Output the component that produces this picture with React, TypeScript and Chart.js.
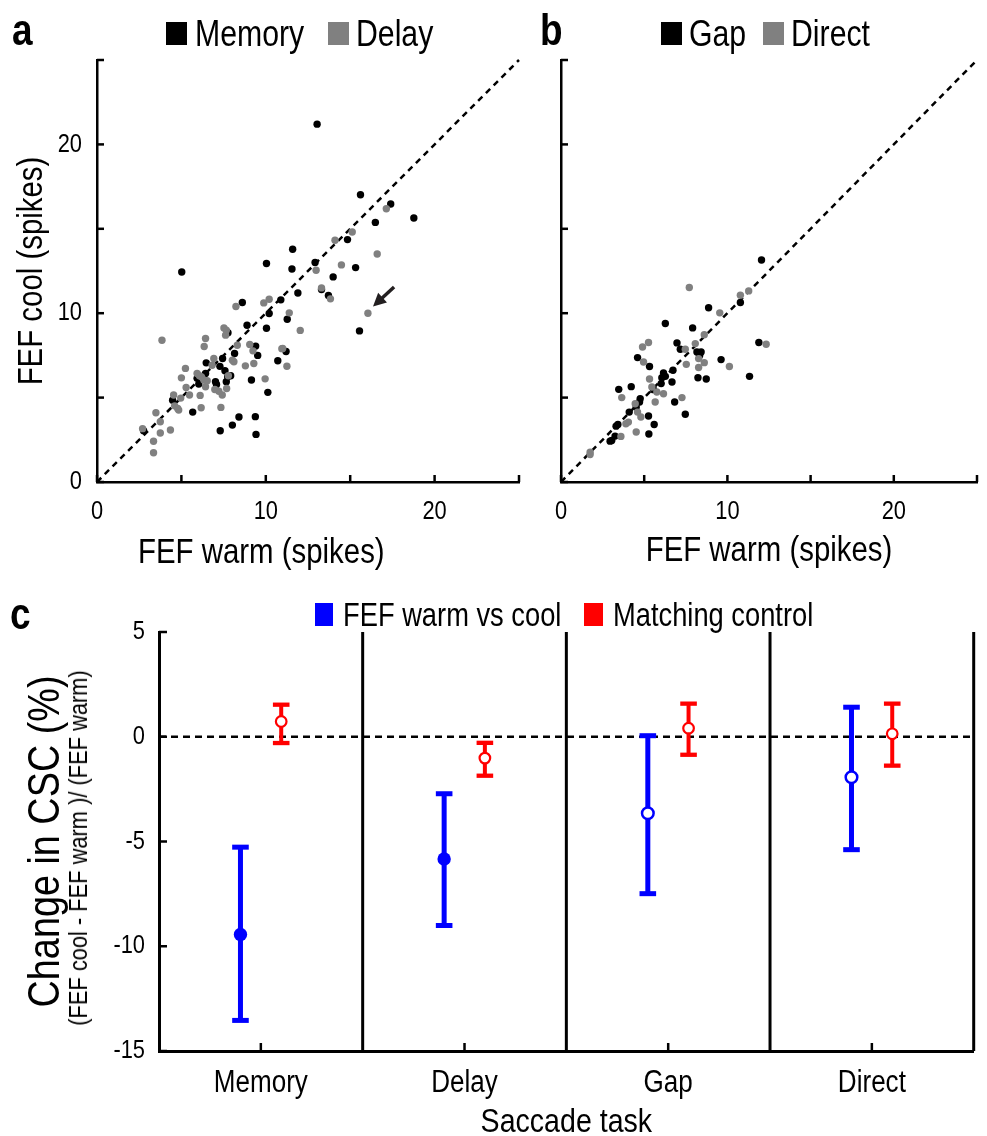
import React, { useEffect, useRef } from 'react';
import { Chart, registerables } from 'chart.js';
Chart.register(...registerables);

const FONT = '"Liberation Sans", Arial, sans-serif';
const CONDENSE = 0.84;
const BLACK = '#000000';
const GRAY = '#808080';
const BLUE = '#0000ff';
const RED = '#ff0000';

// ---------- Panel a: Memory / Delay (FEF warm vs FEF cool spikes) ----------
const memoryX = [13.04, 5.02, 11.59, 10.04, 11.55, 12.92, 11.9, 13.3, 15.61, 17.4, 18.77, 16.49, 14.84, 15.32, 13.99, 13.71, 10.89, 8.61, 10.2, 11.27, 15.55, 10.04, 8.89, 7.76, 8.15, 9.4, 9.52, 11.2, 10.71, 9.15, 10.12, 6.47, 7.44, 7.28, 7.58, 7.92, 6.43, 5.93, 6.03, 7.02, 7.08, 7.66, 7.74, 4.48, 5.67, 8.41, 9.38, 8.02, 7.3, 9.42, 2.76];
const memoryY = [21.2, 12.44, 13.79, 12.94, 12.62, 13.0, 11.2, 11.4, 17.02, 16.47, 15.64, 15.38, 14.36, 12.7, 12.15, 11.05, 10.79, 10.63, 9.98, 9.64, 8.95, 9.11, 9.29, 8.84, 7.61, 8.05, 7.5, 7.73, 7.18, 6.04, 5.31, 7.06, 7.32, 6.85, 6.59, 6.29, 6.43, 6.14, 5.8, 5.94, 5.78, 5.94, 6.23, 4.85, 4.14, 3.85, 3.87, 3.37, 3.04, 2.82, 3.04];
const delayX = [12.98, 13.3, 17.14, 15.12, 14.1, 16.6, 14.48, 13.83, 9.88, 10.2, 11.39, 16.05, 12.04, 9.05, 11.0, 8.23, 3.85, 6.43, 6.35, 7.52, 7.66, 7.62, 8.31, 9.24, 10.95, 11.25, 9.29, 8.79, 9.96, 6.92, 6.82, 7.78, 8.02, 8.11, 5.93, 6.07, 6.19, 6.33, 6.53, 6.43, 6.98, 7.22, 7.42, 7.68, 5.24, 5.0, 5.28, 5.48, 6.11, 4.54, 4.96, 4.6, 4.78, 4.84, 6.17, 7.34, 3.49, 3.75, 2.7, 4.35, 3.75, 3.35, 3.35];
const delayY = [12.54, 11.5, 16.19, 14.81, 14.32, 13.51, 12.86, 10.85, 10.61, 10.83, 10.02, 10.0, 8.98, 8.15, 7.91, 10.4, 8.4, 8.5, 8.03, 9.13, 8.99, 8.7, 8.1, 7.77, 7.9, 6.86, 7.02, 6.88, 6.11, 7.32, 6.92, 6.29, 7.22, 7.12, 6.43, 6.29, 6.23, 6.04, 6.0, 5.64, 5.48, 5.38, 5.15, 5.54, 6.73, 6.17, 5.6, 5.15, 5.13, 5.15, 4.97, 4.51, 4.36, 4.26, 4.4, 4.42, 4.1, 3.57, 3.16, 3.08, 2.9, 2.41, 1.73];
const arrowFrom = [17.6, 11.55];
const arrowTo = [16.35, 10.4];

// ---------- Panel b: Gap / Direct ----------
const gapX = [12.05, 10.78, 8.87, 6.27, 7.91, 11.89, 6.97, 7.17, 8.17, 8.42, 8.33, 9.62, 11.33, 8.23, 8.73, 4.6, 5.32, 6.73, 6.16, 6.06, 6.02, 6.27, 6.67, 5.56, 6.83, 7.47, 4.22, 3.47, 4.76, 4.72, 4.52, 4.1, 5.26, 5.6, 5.28, 3.42, 3.31, 3.25, 3.05, 2.95];
const gapY = [13.15, 10.63, 10.32, 9.39, 9.13, 8.26, 8.24, 7.86, 7.7, 7.7, 7.5, 7.25, 6.26, 6.18, 6.1, 7.37, 6.84, 6.62, 6.46, 6.18, 5.83, 6.26, 5.92, 5.47, 4.74, 4.01, 5.65, 5.49, 4.94, 4.74, 4.44, 4.14, 3.91, 3.41, 2.84, 3.41, 3.31, 2.72, 2.46, 2.42];
const directX = [7.71, 10.78, 11.28, 9.54, 8.61, 12.33, 4.9, 5.26, 7.47, 8.07, 8.27, 8.61, 8.27, 10.12, 7.53, 4.96, 5.32, 5.46, 5.76, 6.16, 5.66, 7.27, 3.65, 4.46, 4.6, 4.8, 4.52, 4.05, 3.9, 3.6, 1.75, 1.75];
const directY = [11.52, 11.07, 11.32, 10.02, 8.73, 8.16, 8.0, 8.26, 7.86, 8.2, 7.31, 7.07, 6.78, 6.84, 6.97, 7.11, 6.1, 5.63, 5.33, 5.23, 4.74, 5.0, 5.0, 4.64, 4.14, 3.85, 2.96, 3.55, 3.45, 2.7, 1.77, 1.63];

const spikeRange = [0, 25];
const spikeTickMarks = [0, 5, 10, 15, 20, 25];
const spikeTickLabels = [0, 10, 20];

// ---------- Panel c: change in CSC ----------
const tasks = ['Memory', 'Delay', 'Gap', 'Direct'];
const coolMean = [-9.44, -5.83, -3.65, -1.93];
const coolLow = [-13.54, -9.01, -7.49, -5.39];
const coolHigh = [-5.27, -2.72, 0.05, 1.41];
const coolFilled = [true, true, false, false];
const controlMean = [0.73, -1.02, 0.41, 0.14];
const controlLow = [-0.3, -1.86, -0.86, -1.38];
const controlHigh = [1.53, -0.29, 1.58, 1.58];
const cscTicks = [-15, -10, -5, 0, 5];
const taskRange = [0.5, 4.5];
const taskDividers = [1.5, 2.5, 3.5, 4.5];
const PAIR_OFFSET = 0.1;

// Draw chart text horizontally condensed (the reference uses a narrow typeface)
const condensedText = {
  id: 'condensedText',
  beforeDraw(chart: any) {
    const ctx = chart.ctx;
    const proto = Object.getPrototypeOf(ctx);
    const orig = proto.fillText;
    ctx.fillText = function (text: string, x: number, y: number) {
      ctx.save();
      ctx.translate(x, y);
      ctx.scale(CONDENSE, 1);
      orig.call(ctx, text, 0, 0);
      ctx.restore();
    };
  },
  afterDraw(chart: any) {
    delete chart.ctx.fillText;
  },
};

const inwardTicks = {
  id: 'inwardTicks',
  afterDraw(chart: any, _args: any, opts: any) {
    const { ctx } = chart;
    const xs = chart.scales.x;
    const ys = chart.scales.y;
    ctx.save();
    ctx.strokeStyle = BLACK;
    ctx.lineWidth = opts.width || 2.5;
    ctx.lineCap = 'butt';
    (opts.x || []).forEach((v: number) => {
      const px = xs.getPixelForValue(v);
      ctx.beginPath();
      ctx.moveTo(px, xs.top);
      ctx.lineTo(px, xs.top - opts.len);
      ctx.stroke();
    });
    (opts.y || []).forEach((v: number) => {
      const py = ys.getPixelForValue(v);
      ctx.beginPath();
      ctx.moveTo(ys.right, py);
      ctx.lineTo(ys.right + opts.len, py);
      ctx.stroke();
    });
    ctx.restore();
  },
};

const arrowNote = {
  id: 'arrowNote',
  afterDatasetsDraw(chart: any, _args: any, opts: any) {
    if (!opts || !opts.from) return;
    const { ctx } = chart;
    const xs = chart.scales.x;
    const ys = chart.scales.y;
    const x1 = xs.getPixelForValue(opts.from[0]);
    const y1 = ys.getPixelForValue(opts.from[1]);
    const x2 = xs.getPixelForValue(opts.to[0]);
    const y2 = ys.getPixelForValue(opts.to[1]);
    const ang = Math.atan2(y2 - y1, x2 - x1);
    const head = 13;
    const hw = 6.5;
    const bx = x2 - head * Math.cos(ang);
    const by = y2 - head * Math.sin(ang);
    ctx.save();
    ctx.strokeStyle = opts.color;
    ctx.fillStyle = opts.color;
    ctx.lineWidth = 3.5;
    ctx.beginPath();
    ctx.moveTo(x1, y1);
    ctx.lineTo(bx + 2 * Math.cos(ang), by + 2 * Math.sin(ang));
    ctx.stroke();
    ctx.beginPath();
    ctx.moveTo(x2, y2);
    ctx.lineTo(bx + hw * Math.sin(ang), by - hw * Math.cos(ang));
    ctx.lineTo(bx - hw * Math.sin(ang), by + hw * Math.cos(ang));
    ctx.closePath();
    ctx.fill();
    ctx.restore();
  },
};

const pts = (xs: number[], ys: number[]) => xs.map((x, i) => ({ x, y: ys[i] }));

function scatterConfig(opts: {
  blackX: number[]; blackY: number[]; grayX: number[]; grayY: number[];
  yLabels: boolean; yTitle: string | null; xTitle: boolean; yWidth: number; padRight: number; height: number;
  arrow?: any;
}) {
  const plugins: any[] = [condensedText, inwardTicks];
  if (opts.arrow) plugins.push(arrowNote);
  return {
    type: 'scatter',
    plugins,
    data: {
      datasets: [
        { label: 'gray', data: pts(opts.grayX, opts.grayY), backgroundColor: GRAY, borderWidth: 0, pointRadius: 3.7, order: 0 },
        { label: 'black', data: pts(opts.blackX, opts.blackY), backgroundColor: BLACK, borderWidth: 0, pointRadius: 3.7, order: 1 },
        {
          type: 'line', label: 'unity', data: spikeRange.map((v) => ({ x: v, y: v })),
          borderColor: BLACK, borderWidth: 2.5, borderDash: [6, 5], pointRadius: 0, order: 2, clip: false,
        },
      ],
    },
    options: {
      responsive: false,
      animation: false,
      events: [],
      layout: { padding: { left: 0, top: 60, right: opts.padRight, bottom: 0 } },
      plugins: {
        legend: { display: false },
        tooltip: { enabled: false },
        inwardTicks: { x: spikeTickMarks, y: spikeTickMarks, len: 7, width: 2.5 },
        arrowNote: opts.arrow || {},
      },
      scales: {
        x: {
          type: 'linear', min: spikeRange[0], max: spikeRange[1],
          afterFit: (s: any) => { s.height = opts.height - 482; },
          afterBuildTicks: (s: any) => { s.ticks = spikeTickLabels.map((v) => ({ value: v })); },
          grid: { display: false, drawTicks: false },
          border: { display: true, color: BLACK, width: 2.5 },
          ticks: { color: BLACK, font: { family: FONT, size: 26 }, padding: 14, maxRotation: 0, autoSkip: false },
          title: {
            display: opts.xTitle, text: 'FEF warm (spikes)', color: BLACK,
            font: { family: FONT, size: 35 }, padding: { top: 0, bottom: 18 },
          },
        },
        y: {
          type: 'linear', min: spikeRange[0], max: spikeRange[1],
          afterFit: (s: any) => { s.width = opts.yWidth; },
          afterBuildTicks: (s: any) => { s.ticks = spikeTickLabels.map((v) => ({ value: v })); },
          grid: { display: false, drawTicks: false },
          border: { display: true, color: BLACK, width: 2.5 },
          ticks: { display: opts.yLabels, color: BLACK, font: { family: FONT, size: 26 }, padding: 15 },
          title: opts.yTitle
            ? { display: true, text: opts.yTitle, color: BLACK, font: { family: FONT, size: 35 }, padding: { top: 11, bottom: 0 } }
            : { display: false },
        },
      },
    },
  };
}

function cscConfig() {
  const coolPts = tasks.map((_, i) => ({ x: i + 1 - PAIR_OFFSET, y: coolMean[i] }));
  const controlPts = tasks.map((_, i) => ({ x: i + 1 + PAIR_OFFSET, y: controlMean[i] }));
  const coolBars = tasks.map((_, i) => ({
    type: 'line', label: 'coolErr' + i,
    data: [{ x: i + 1 - PAIR_OFFSET, y: coolLow[i] }, { x: i + 1 - PAIR_OFFSET, y: coolHigh[i] }],
    borderColor: BLUE, borderWidth: 5, pointStyle: 'line', pointRadius: 8.3,
    pointBorderColor: BLUE, pointBorderWidth: 5, order: 1, clip: false,
  }));
  const controlBars = tasks.map((_, i) => ({
    type: 'line', label: 'ctrlErr' + i,
    data: [{ x: i + 1 + PAIR_OFFSET, y: controlLow[i] }, { x: i + 1 + PAIR_OFFSET, y: controlHigh[i] }],
    borderColor: RED, borderWidth: 4, pointStyle: 'line', pointRadius: 8.3,
    pointBorderColor: RED, pointBorderWidth: 4.3, order: 1, clip: false,
  }));
  const dividers = taskDividers.map((d, i) => ({
    type: 'line', label: 'div' + i,
    data: [{ x: d, y: cscTicks[0] }, { x: d, y: cscTicks[cscTicks.length - 1] }],
    borderColor: BLACK, borderWidth: 3, pointRadius: 0, order: 3, clip: false,
  }));
  return {
    type: 'scatter',
    plugins: [condensedText, inwardTicks],
    data: {
      datasets: [
        {
          label: 'FEF warm vs cool', data: coolPts,
          pointRadius: coolFilled.map((f) => (f ? 6.7 : 5.8)),
          pointBackgroundColor: coolFilled.map((f) => (f ? BLUE : '#ffffff')),
          pointBorderColor: BLUE,
          pointBorderWidth: coolFilled.map((f) => (f ? 0 : 2.5)),
          order: 0, clip: false,
        },
        {
          label: 'Matching control', data: controlPts,
          pointRadius: 5.3, pointBackgroundColor: '#ffffff', pointBorderColor: RED, pointBorderWidth: 2.2,
          order: 0, clip: false,
        },
        ...coolBars,
        ...controlBars,
        {
          type: 'line', label: 'zero', data: taskRange.map((x) => ({ x, y: 0 })),
          borderColor: BLACK, borderWidth: 2.5, borderDash: [7, 5], pointRadius: 0, order: 2,
        },
        ...dividers,
      ],
    },
    options: {
      responsive: false,
      animation: false,
      events: [],
      layout: { padding: { left: 0, top: 32, right: 1, bottom: 0 } },
      plugins: {
        legend: { display: false },
        tooltip: { enabled: false },
        inwardTicks: { x: tasks.map((_, i) => i + 1), y: cscTicks, len: 8, width: 2.5 },
      },
      scales: {
        x: {
          type: 'linear', min: taskRange[0], max: taskRange[1],
          afterFit: (s: any) => { s.height = 536 - 451; },
          afterBuildTicks: (s: any) => { s.ticks = tasks.map((_, i) => ({ value: i + 1 })); },
          grid: { display: false, drawTicks: false },
          border: { display: true, color: BLACK, width: 3 },
          ticks: {
            color: BLACK, font: { family: FONT, size: 31 }, padding: 14, maxRotation: 0, autoSkip: false,
            callback: (v: number) => tasks[Math.round(v) - 1],
          },
          title: { display: true, text: 'Saccade task', color: BLACK, font: { family: FONT, size: 34, lineHeight: 0.8 }, padding: { top: 0, bottom: 0 } },
        },
        y: {
          type: 'linear', min: cscTicks[0], max: cscTicks[cscTicks.length - 1],
          afterFit: (s: any) => { s.width = 159; },
          afterBuildTicks: (s: any) => { s.ticks = cscTicks.map((v) => ({ value: v })); },
          grid: { display: false, drawTicks: false },
          border: { display: true, color: BLACK, width: 3 },
          ticks: { color: BLACK, font: { family: FONT, size: 26 }, padding: 14 },
          title: { display: true, text: 'Change in CSC (%)', color: BLACK, font: { family: FONT, size: 45 }, padding: { top: 20, bottom: 0 } },
        },
      },
    },
  };
}

const abs = (s: React.CSSProperties): React.CSSProperties => ({ position: 'absolute', ...s });

function Square({ left, top, w, h, color }: { left: number; top: number; w: number; h: number; color: string }) {
  return <div style={abs({ left, top, width: w, height: h, background: color })} />;
}

function Label({ left, cy, size, children, bold }: { left: number; cy: number; size: number; children: React.ReactNode; bold?: boolean }) {
  return (
    <div
      style={abs({
        left, top: cy - size * 0.6, fontSize: size, lineHeight: `${size * 1.2}px`, whiteSpace: 'nowrap',
        fontWeight: bold ? 700 : 400, color: BLACK, transform: `scaleX(${CONDENSE})`, transformOrigin: '0 50%',
      })}
    >
      {children}
    </div>
  );
}

export default function App() {
  const refA = useRef<HTMLCanvasElement>(null);
  const refB = useRef<HTMLCanvasElement>(null);
  const refC = useRef<HTMLCanvasElement>(null);

  useEffect(() => {
    const charts: Chart[] = [];
    if (refA.current) {
      charts.push(new Chart(refA.current, scatterConfig({
        blackX: memoryX, blackY: memoryY, grayX: delayX, grayY: delayY,
        yLabels: true, yTitle: 'FEF cool (spikes)', xTitle: false, yWidth: 97, padRight: 540 - 519, height: 590,
        arrow: { from: arrowFrom, to: arrowTo, color: '#231f20' },
      }) as any));
    }
    if (refB.current) {
      charts.push(new Chart(refB.current, scatterConfig({
        blackX: gapX, blackY: gapY, grayX: directX, grayY: directY,
        yLabels: false, yTitle: null, xTitle: true, yWidth: 91, padRight: 517 - 507, height: 590,
      }) as any));
    }
    if (refC.current) {
      charts.push(new Chart(refC.current, cscConfig() as any));
    }
    return () => charts.forEach((c) => c.destroy());
  }, []);

  return (
    <div style={abs({ left: 0, top: 0, width: 987, height: 1136, background: '#fff', overflow: 'hidden', fontFamily: FONT })}>
      <canvas ref={refA} width={540} height={590} style={abs({ left: 0, top: 0 })} />
      <canvas ref={refB} width={517} height={590} style={abs({ left: 470, top: 0 })} />
      <canvas ref={refC} width={987} height={536} style={abs({ left: 0, top: 600 })} />

      <Label left={12} cy={30} size={44} bold>a</Label>
      <Label left={540} cy={30} size={44} bold>b</Label>
      <Label left={10} cy={614} size={44} bold>c</Label>

      <Square left={166} top={22} w={21} h={23} color={BLACK} />
      <Label left={195} cy={34} size={36}>Memory</Label>
      <Square left={328} top={22} w={21} h={23} color={GRAY} />
      <Label left={356} cy={34} size={36}>Delay</Label>

      <Square left={661} top={22} w={21} h={23} color={BLACK} />
      <Label left={689} cy={34} size={36}>Gap</Label>
      <Square left={763} top={22} w={21} h={23} color={GRAY} />
      <Label left={791} cy={34} size={36}>Direct</Label>

      <Label left={138} cy={551} size={35}>FEF warm (spikes)</Label>

      <Square left={315} top={603} w={18} h={23} color={BLUE} />
      <Label left={343} cy={615} size={32.5}>FEF warm vs cool</Label>
      <Square left={584} top={603} w={19} h={23} color={RED} />
      <Label left={613} cy={615} size={32.5}>Matching control</Label>

      <div
        style={abs({
          left: 78 - 220, top: 848 - 15, width: 440, height: 30, lineHeight: '30px', fontSize: 26,
          textAlign: 'center', whiteSpace: 'nowrap', transform: `rotate(-90deg) scaleX(${CONDENSE})`,
          transformOrigin: '50% 50%', color: BLACK,
        })}
      >
        (FEF cool - FEF warm )/ (FEF warm)
      </div>
    </div>
  );
}
